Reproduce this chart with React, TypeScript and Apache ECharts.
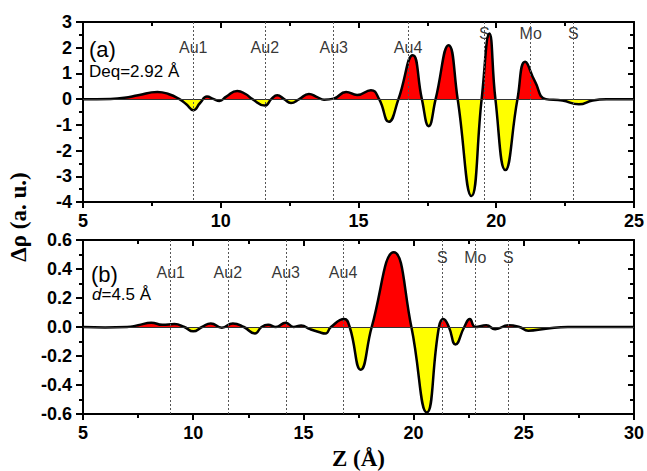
import React, { useEffect, useRef } from 'react';
import * as echarts from 'echarts';

// Panel (a): Deq = 2.92 Å
const topZ = [5.0, 6.0, 6.5, 7.0, 7.7, 8.1, 8.5, 8.75, 9.0, 9.25, 9.5, 9.75, 9.95, 10.2, 10.6, 10.9, 11.15, 11.6, 11.85, 12.05, 12.3, 12.55, 12.85, 13.2, 13.5, 13.75, 14.1, 14.55, 14.95, 15.45, 15.75, 16.1, 16.45, 16.97, 17.3, 17.55, 17.8, 18.27, 18.6, 19.1, 19.47, 19.75, 19.97, 20.33, 20.77, 21.05, 21.4, 21.8, 22.4, 23.0, 23.5, 24.0, 25.0];
const topRho = [0.0, 0.01, 0.05, 0.15, 0.28, 0.2, 0.0, -0.2, -0.43, -0.15, 0.1, 0.0, -0.07, 0.1, 0.32, 0.2, 0.0, -0.25, 0.02, 0.15, 0.0, -0.15, 0.0, 0.2, 0.08, -0.02, 0.02, 0.28, 0.16, 0.35, 0.0, -0.88, 0.0, 1.71, 0.0, -1.05, 0.0, 2.1, 0.0, -3.77, 0.0, 2.55, 0.0, -2.76, 0.0, 1.45, 0.7, 0.0, -0.05, -0.2, -0.05, 0.0, 0.0];

// Panel (b): d = 4.5 Å
const bottomZ = [5.0, 6.0, 7.0, 7.5, 8.1, 8.6, 9.15, 9.6, 10.0, 10.4, 10.8, 11.3, 11.8, 12.3, 12.8, 13.1, 13.4, 13.75, 14.2, 14.55, 14.9, 15.3, 15.7, 16.0, 16.25, 16.85, 17.1, 17.6, 18.1, 19.1, 19.9, 20.6, 21.15, 21.35, 21.6, 21.9, 22.3, 22.55, 22.8, 23.3, 23.7, 24.3, 24.8, 25.2, 26.0, 27.0, 30.0];
const bottomRho = [0.0, -0.003, 0.0, 0.012, 0.03, 0.015, 0.02, 0.0, -0.03, 0.0, 0.025, -0.005, 0.025, 0.0, -0.045, 0.0, 0.015, 0.0, 0.03, 0.0, 0.01, -0.015, -0.035, -0.045, 0.0, 0.055, 0.0, -0.295, 0.0, 0.515, 0.0, -0.59, 0.0, 0.055, 0.0, -0.12, 0.0, 0.055, 0.0, 0.012, -0.015, 0.012, 0.0, -0.025, -0.012, 0.0, 0.0];

const siteNames = ['Au1', 'Au2', 'Au3', 'Au4', 'S', 'Mo', 'S'];
const topSites = [9.0, 11.6, 14.1, 16.8, 19.57, 21.25, 22.8];
const bottomSites = [8.98, 11.57, 14.2, 16.8, 21.3, 22.8, 24.3];

const SANS = 'Arial, "Liberation Sans", sans-serif';
const SERIF = '"Times New Roman", "Liberation Serif", serif';

function xAxes(grid: number, min: number, max: number, name?: string) {
  const common = {
    type: 'value', gridIndex: grid, min, max, interval: 5,
    splitLine: { show: false }, minorSplitLine: { show: false },
    axisLine: { onZero: false, lineStyle: { color: '#000', width: 2 } },
  };
  return [
    {
      ...common, position: 'bottom',
      axisTick: { inside: false, length: 6, lineStyle: { color: '#000', width: 2 } },
      minorTick: { show: true, splitNumber: 2, length: 4, lineStyle: { color: '#000', width: 2 } },
      axisLabel: { fontSize: 18, fontWeight: 'bold', color: '#000', fontFamily: SANS, margin: 10 },
      name: name || '', nameLocation: 'middle', nameGap: 33,
      nameTextStyle: { fontSize: 23, fontWeight: 'bold', fontFamily: SERIF, color: '#000' },
    },
    {
      ...common, position: 'top',
      axisTick: { inside: true, length: 6, lineStyle: { color: '#000', width: 2 } },
      minorTick: { show: true, splitNumber: 2, length: 4, lineStyle: { color: '#000', width: 2 } },
      axisLabel: { show: false },
    },
  ];
}

function yAxes(grid: number, min: number, max: number, interval: number, digits: number) {
  const common = {
    type: 'value', gridIndex: grid, min, max, interval,
    splitLine: { show: false }, minorSplitLine: { show: false },
    axisLine: { onZero: false, lineStyle: { color: '#000', width: 2 } },
  };
  return [
    {
      ...common, position: 'left',
      axisTick: { inside: false, length: 7, lineStyle: { color: '#000', width: 2 } },
      minorTick: { show: true, splitNumber: 2, length: 4, lineStyle: { color: '#000', width: 2 } },
      axisLabel: {
        fontSize: 18, fontWeight: 'bold', color: '#000', fontFamily: SANS, margin: 11,
        formatter: (v: number) => v.toFixed(digits),
      },
    },
    {
      ...common, position: 'right',
      axisTick: { inside: true, length: 6, lineStyle: { color: '#000', width: 2 } },
      minorTick: { show: true, splitNumber: 2, length: 4, lineStyle: { color: '#000', width: 2 } },
      axisLabel: { show: false },
    },
  ];
}

function panelSeries(axisIndex: number, zs: number[], rhos: number[], sites: number[], yTop: number, yBottom: number, auLevel: number, sLevel: number) {
  const pts = zs.map((z, i) => [z, rhos[i]]);
  return [
    {
      type: 'line', xAxisIndex: axisIndex, yAxisIndex: axisIndex, data: pts, smooth: 0.5,
      symbol: 'none', lineStyle: { width: 0, opacity: 0 }, areaStyle: { opacity: 1 }, z: 1,
      silent: true,
      markLine: {
        silent: true, symbol: ['none', 'none'], label: { show: false },
        lineStyle: { color: '#333', width: 1, type: 'solid' },
        data: [{ yAxis: 0 }],
      },
    },
    {
      type: 'scatter', xAxisIndex: axisIndex, yAxisIndex: axisIndex, symbolSize: 0,
      silent: true, z: 2,
      itemStyle: { color: 'transparent' },
      data: sites.map((s, i) => ({ value: [s, siteNames[i].startsWith('Au') ? auLevel : sLevel], name: siteNames[i] })),
      label: { show: true, position: 'inside', formatter: (p: any) => p.name, fontSize: 16, color: '#000', fontFamily: SANS },
      markLine: {
        silent: true, symbol: ['none', 'none'], label: { show: false },
        lineStyle: { color: '#555', width: 1, type: [2, 2] },
        data: sites.map((s) => [{ coord: [s, yTop] }, { coord: [s, yBottom] }]),
      },
    },
    {
      type: 'line', xAxisIndex: axisIndex, yAxisIndex: axisIndex, data: pts, smooth: 0.5,
      symbol: 'none', lineStyle: { color: '#000', width: 2.5 }, z: 3, silent: true,
    },
  ];
}

export default function App() {
  const ref = useRef<HTMLDivElement>(null);
  useEffect(() => {
    if (!ref.current) return;
    const chart = echarts.init(ref.current, null, { renderer: 'svg' });
    chart.setOption({
      animation: false,
      backgroundColor: '#fff',
      grid: [
        { left: 83, top: 22, width: 553, height: 180 },
        { left: 83, top: 240, width: 553, height: 179 },
      ],
      xAxis: [...xAxes(0, 5, 25), ...xAxes(1, 5, 30, 'Z (Å)')],
      yAxis: [...yAxes(0, -4, 3, 1, 0), ...yAxes(1, -0.6, 0.6, 0.2, 1)],
      visualMap: [
        {
          type: 'piecewise', show: false, seriesIndex: 0, dimension: 1,
          pieces: [{ min: -4, max: 0, color: '#ffff00' }, { min: 0, max: 3, color: '#ff0000' }],
        },
        {
          type: 'piecewise', show: false, seriesIndex: 3, dimension: 1,
          pieces: [{ min: -0.6, max: 0, color: '#ffff00' }, { min: 0, max: 0.6, color: '#ff0000' }],
        },
      ],
      series: [
        ...panelSeries(0, topZ, topRho, topSites, 3, -4, 2.02, 2.57),
        ...panelSeries(2, bottomZ, bottomRho, bottomSites, 0.6, -0.6, 0.376, 0.477),
      ],
      graphic: [
        { type: 'text', left: 89, top: 38, style: { text: '(a)', fontSize: 22, fontFamily: SANS, fill: '#000' } },
        { type: 'text', left: 89, top: 63, style: { text: 'Deq=2.92 Å', fontSize: 17, fontFamily: SANS, fill: '#000' } },
        { type: 'text', left: 91, top: 263, style: { text: '(b)', fontSize: 22, fontFamily: SANS, fill: '#000' } },
        {
          type: 'text', left: 92, top: 286,
          style: {
            text: '{i|d}=4.5 Å', fontSize: 17, fontFamily: SANS, fill: '#000',
            rich: { i: { fontStyle: 'italic', fontSize: 17, fontFamily: SANS, fill: '#000' } },
          },
        },
        {
          type: 'text', x: 18, y: 217, rotation: Math.PI / 2,
          style: { text: 'Δρ (a. u.)', fontSize: 23, fontWeight: 'bold', fontFamily: SERIF, fill: '#000', align: 'center', verticalAlign: 'middle' },
        },
      ],
    });
    return () => chart.dispose();
  }, []);
  return <div ref={ref} style={{ position: 'fixed', left: 0, top: 0, width: 647, height: 471 }} />;
}
